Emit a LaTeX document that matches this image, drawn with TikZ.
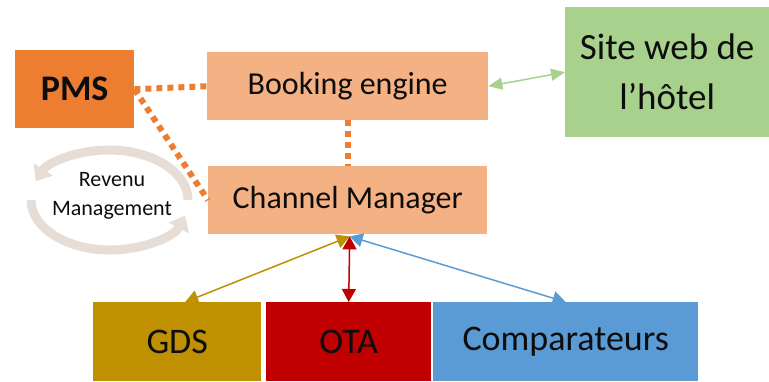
\documentclass[tikz,border=0pt]{standalone}
\usepackage{fontspec}
\setmainfont{Carlito}
\usetikzlibrary{arrows.meta}

\definecolor{pmsorange}{HTML}{ED7D31}
\definecolor{lightorange}{HTML}{F4B183}
\definecolor{sitegreen}{HTML}{A9D18E}
\definecolor{gdsgold}{HTML}{BF9000}
\definecolor{otared}{HTML}{C00000}
\definecolor{compblue}{HTML}{5B9BD5}
\definecolor{cyclegray}{HTML}{E6DED6}
\definecolor{textblack}{HTML}{0D0D0D}

\begin{document}
\begin{tikzpicture}[x=1pt, y=-1pt,
	box/.style={rectangle, anchor=north west, inner sep=0pt, text=textblack, align=center},
	dotlink/.style={pmsorange, line width=6pt, dash pattern=on 6pt off 5pt},
	flow/.style={line width=1.5pt, {Triangle[width=14pt,length=13pt]}-{Triangle[width=14pt,length=13pt]}}]

	\useasboundingbox (0,0) rectangle (769,381);

	%PMS and revenue cycle
	\node[box, fill=pmsorange, minimum width=119pt, minimum height=78pt, font=\fontsize{36}{40}\selectfont\bfseries] (pms) at (15,50) {PMS};
	\draw[cyclegray, line width=9pt, -{Triangle[width=22pt,length=14pt]}] (188,200) arc[start angle=0, end angle=-158, x radius=79, y radius=50];
	\draw[cyclegray, line width=9pt, -{Triangle[width=22pt,length=14pt]}] (31,200) arc[start angle=-180, end angle=-342, x radius=79, y radius=50];
	\node[align=center, text=textblack, font=\fontsize{22}{29}\selectfont] (revenu) at (112,196) {Revenu\\Management};

	%booking engine and channel manager
	\node[box, fill=lightorange, minimum width=281pt, minimum height=68pt, font=\fontsize{32}{36}\selectfont] (booking) at (207,52) {Booking engine};
	\node[box, fill=lightorange, minimum width=279pt, minimum height=68pt, font=\fontsize{32}{36}\selectfont] (channel) at (208,166) {Channel Manager};

	%hotel website
	\node[box, fill=sitegreen, minimum width=204pt, minimum height=130pt, font=\fontsize{37}{50}\selectfont] (site) at (565,7) {Site web de\\l'hôtel};

	%distribution channels
	\node[box, fill=gdsgold, minimum width=168pt, minimum height=79pt, font=\fontsize{36}{40}\selectfont] (gds) at (93,302) {GDS};
	\node[box, fill=otared, minimum width=165pt, minimum height=79pt, font=\fontsize{36}{40}\selectfont] (ota) at (266,302) {OTA};
	\node[box, fill=compblue, minimum width=265pt, minimum height=79pt, font=\fontsize{36}{40}\selectfont] (comp) at (433,302) {Comparateurs};

	%dotted links
	\draw[dotlink] (pms.east) -- (booking.west);
	\draw[dotlink] (pms.east) -- (channel.west);
	\draw[dotlink] (booking.south) -- (channel.south |- channel.north);

	%arrows
	\draw[sitegreen, line width=1.5pt, {Triangle[width=12pt,length=14pt]}-{Triangle[width=12pt,length=14pt]}] (booking.east) -- (site.west);
	\coordinate (cmport) at ([xshift=2pt,yshift=-2pt]channel.south);
	\draw[flow, gdsgold] (cmport) -- ([xshift=8pt]gds.north);
	\draw[flow, otared] (cmport) -- (ota.north);
	\draw[flow, compblue] (cmport) -- (comp.north);

\end{tikzpicture}
\end{document}
